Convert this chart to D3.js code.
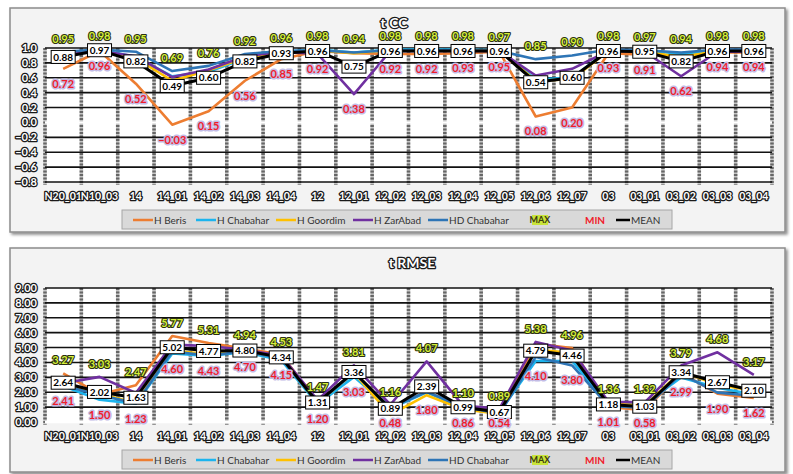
<!DOCTYPE html>
<html>
<head>
<meta charset="utf-8">
<script src="https://cdn.jsdelivr.net/npm/d3@7"></script>
<style>
  body { margin: 0; background: #fff; }
  svg { display: block; font-family: Lato, 'Open Sans', sans-serif; }
</style>
</head>
<body>
<svg width="793" height="474"></svg>
<script>
const categories = ['N20_01', 'N10_03', '14', '14_01', '14_02', '14_03', '14_04', '12', '12_01', '12_02',
  '12_03', '12_04', '12_05', '12_06', '12_07', '03', '03_01', '03_02', '03_03', '03_04'];

const seriesNames = ['H Beris', 'H Chabahar', 'H Goordim', 'H ZarAbad', 'HD Chabahar'];
const seriesColors = ['#ed7d31', '#1cb4ee', '#ffc000', '#7030a0', '#2e75b6'];

// t CC
const ccBeris = [0.72, 0.96, 0.52, -0.03, 0.15, 0.56, 0.85, 0.96, 0.93, 0.92, 0.92, 0.93, 0.95, 0.08, 0.20, 0.93, 0.91, 0.90, 0.94, 0.94];
const ccChabahar = [0.93, 0.98, 0.88, 0.62, 0.68, 0.86, 0.95, 0.98, 0.94, 0.98, 0.98, 0.98, 0.97, 0.58, 0.60, 0.97, 0.97, 0.92, 0.97, 0.97];
const ccGoordim = [0.90, 0.97, 0.86, 0.56, 0.70, 0.87, 0.94, 0.97, 0.93, 0.97, 0.97, 0.97, 0.96, 0.56, 0.58, 0.96, 0.95, 0.88, 0.96, 0.96];
const ccZarAbad = [0.91, 0.96, 0.89, 0.61, 0.71, 0.89, 0.95, 0.92, 0.38, 0.96, 0.96, 0.96, 0.96, 0.63, 0.72, 0.96, 0.95, 0.62, 0.95, 0.95];
const ccHdChabahar = [0.95, 0.98, 0.95, 0.69, 0.76, 0.92, 0.96, 0.97, 0.94, 0.97, 0.97, 0.97, 0.96, 0.85, 0.90, 0.98, 0.97, 0.94, 0.98, 0.98];
const ccMax = [0.95, 0.98, 0.95, 0.69, 0.76, 0.92, 0.96, 0.98, 0.94, 0.98, 0.98, 0.98, 0.97, 0.85, 0.90, 0.98, 0.97, 0.94, 0.98, 0.98];
const ccMin = [0.72, 0.96, 0.52, -0.03, 0.15, 0.56, 0.85, 0.92, 0.38, 0.92, 0.92, 0.93, 0.95, 0.08, 0.20, 0.93, 0.91, 0.62, 0.94, 0.94];
const ccMean = [0.88, 0.97, 0.82, 0.49, 0.60, 0.82, 0.93, 0.96, 0.75, 0.96, 0.96, 0.96, 0.96, 0.54, 0.60, 0.96, 0.95, 0.82, 0.96, 0.96];
const ccTicks = [1.0, 0.8, 0.6, 0.4, 0.2, 0.0, -0.2, -0.4, -0.6, -0.8];

// t RMSE
const rmseBeris = [3.27, 1.85, 2.47, 5.77, 5.31, 4.94, 4.53, 1.30, 3.35, 0.95, 2.05, 1.00, 0.70, 5.25, 4.96, 1.01, 0.80, 3.30, 1.90, 1.62];
const rmseChabahar = [2.41, 1.50, 1.23, 4.60, 4.43, 4.70, 4.15, 1.20, 3.03, 0.90, 2.00, 0.98, 0.65, 4.10, 4.10, 1.20, 1.20, 2.99, 2.30, 1.85];
const rmseGoordim = [2.50, 1.90, 1.30, 4.80, 4.55, 4.76, 4.30, 1.28, 3.30, 0.48, 1.80, 0.86, 0.54, 4.85, 4.64, 1.25, 1.10, 3.40, 2.50, 2.10];
const rmseZarAbad = [2.60, 3.03, 1.95, 5.20, 5.10, 4.85, 4.45, 1.47, 3.81, 1.16, 4.07, 1.10, 0.89, 5.38, 4.80, 1.36, 1.32, 3.79, 4.68, 3.17];
const rmseHdChabahar = [2.45, 1.82, 1.25, 4.73, 4.46, 4.75, 4.27, 1.30, 3.31, 0.96, 2.03, 1.01, 0.57, 4.37, 3.80, 1.08, 0.95, 3.22, 1.97, 1.76];
const rmseMax = [3.27, 3.03, 2.47, 5.77, 5.31, 4.94, 4.53, 1.47, 3.81, 1.16, 4.07, 1.10, 0.89, 5.38, 4.96, 1.36, 1.32, 3.79, 4.68, 3.17];
const rmseMin = [2.41, 1.50, 1.23, 4.60, 4.43, 4.70, 4.15, 1.20, 3.03, 0.48, 1.80, 0.86, 0.54, 4.10, 3.80, 1.01, 0.58, 2.99, 1.90, 1.62];
const rmseMean = [2.64, 2.02, 1.63, 5.02, 4.77, 4.80, 4.34, 1.31, 3.36, 0.89, 2.39, 0.99, 0.67, 4.79, 4.46, 1.18, 1.03, 3.34, 2.67, 2.10];
const rmseTicks = [9, 8, 7, 6, 5, 4, 3, 2, 1, 0];

const svg = d3.select('svg');
const defs = svg.append('defs');
defs.append('filter').attr('id', 'shadow').attr('x', '-5%').attr('y', '-5%').attr('width', '110%').attr('height', '115%')
  .append('feDropShadow').attr('dx', 2).attr('dy', 2).attr('stdDeviation', 1.5)
  .attr('flood-color', '#000').attr('flood-opacity', 0.45);

function outlined(sel, size) {
  sel.attr('font-weight', 'bold').attr('font-size', size)
    .attr('fill', '#fff').attr('stroke', '#1a1a1a').attr('stroke-width', 2.6)
    .attr('paint-order', 'stroke').attr('stroke-linejoin', 'round');
}

function drawPanel(top, title, titleX, series, maxV, minV, meanV, ticks, tickFmt) {
  const g = svg.append('g');
  const left = 45, right = 772, plotTop = top + 40, plotBottom = top + 174;

  // frame
  g.append('rect').attr('x', 10).attr('y', top).attr('width', 775).attr('height', 224)
    .attr('fill', '#f3f3f3').attr('stroke', '#8c8c8c').attr('stroke-width', 1.5)
    .attr('filter', 'url(#shadow)');
  g.append('rect').attr('x', left).attr('y', plotTop).attr('width', right - left)
    .attr('height', plotBottom - plotTop).attr('fill', '#fff');

  const x = d3.scaleBand().domain(categories).range([left, right]);
  const y = d3.scaleLinear().domain([ticks[ticks.length - 1], ticks[0]]).range([plotBottom, plotTop]);
  const cx = (i) => x(categories[i]) + x.bandwidth() / 2;

  // vertical gridlines
  const vx = categories.map((c) => x(c)).concat([right]);
  g.selectAll('.vbase').data(vx).join('line')
    .attr('x1', (d) => d).attr('x2', (d) => d).attr('y1', plotTop).attr('y2', plotBottom + 3)
    .attr('stroke', '#c4c4c4').attr('stroke-width', 3.5);
  g.selectAll('.vdash').data(vx).join('line')
    .attr('x1', (d) => d).attr('x2', (d) => d).attr('y1', plotTop).attr('y2', plotBottom + 3)
    .attr('stroke', '#666').attr('stroke-width', 3.5).attr('stroke-dasharray', '2,1.5');

  // horizontal gridlines
  g.selectAll('.hgrid').data(ticks.filter((t) => t !== 0)).join('line')
    .attr('x1', left).attr('x2', right).attr('y1', (d) => y(d)).attr('y2', (d) => y(d))
    .attr('stroke', '#111').attr('stroke-width', 1.6);
  g.append('line').attr('x1', left).attr('x2', right).attr('y1', y(0)).attr('y2', y(0))
    .attr('stroke', '#fff').attr('stroke-width', 2.5);

  // axes
  const ya = g.append('g').attr('transform', `translate(${left},0)`)
    .call(d3.axisLeft(y).tickValues(ticks).tickFormat(tickFmt).tickSize(0).tickPadding(8));
  ya.select('.domain').remove();
  ya.selectAll('text').call(outlined, 11).attr('font-family', 'Lato, sans-serif');

  const xa = g.append('g').attr('transform', `translate(0,${plotBottom + 11})`)
    .call(d3.axisBottom(x).tickSize(0).tickPadding(0));
  xa.select('.domain').remove();
  xa.selectAll('text').call(outlined, 10.5).attr('font-family', 'Lato, sans-serif').attr('dy', '0.7em');

  // title
  g.append('text').attr('x', titleX).attr('y', top + 20).attr('text-anchor', 'middle')
    .text(title).call(outlined, 14);

  // series lines
  const line = d3.line().x((d, i) => cx(i)).y((d) => y(d));
  series.forEach((s, k) => {
    g.append('path').attr('d', line(s)).attr('fill', 'none')
      .attr('stroke', seriesColors[k]).attr('stroke-width', 2.6).attr('stroke-linejoin', 'round');
  });
  g.append('path').attr('d', line(meanV)).attr('fill', 'none')
    .attr('stroke', '#000').attr('stroke-width', 3).attr('stroke-linejoin', 'round');

  const fmt = d3.format('.2f');

  // mean labels in boxes
  const ml = g.selectAll('.ml').data(meanV).join('g')
    .attr('transform', (d, i) => `translate(${cx(i)},${y(d)})`);
  ml.append('rect').attr('x', -12).attr('y', -6.5).attr('width', 24).attr('height', 13)
    .attr('fill', '#fff').attr('stroke', '#000').attr('stroke-width', 1);
  ml.append('text').attr('text-anchor', 'middle').attr('dy', '0.36em')
    .attr('font-size', 10).attr('font-weight', 'bold').attr('fill', '#000').text((d) => fmt(d));

  // max labels
  g.selectAll('.mx').data(maxV).join('text')
    .attr('x', (d, i) => cx(i)).attr('y', (d) => y(d) - 9).attr('text-anchor', 'middle')
    .attr('font-size', 11).attr('font-weight', 'bold').attr('fill', '#d6f03a')
    .attr('stroke', '#2b2f12').attr('stroke-width', 2.2).attr('paint-order', 'stroke')
    .attr('stroke-linejoin', 'round').text((d) => fmt(d));

  // min labels, kept just above the category labels
  g.selectAll('.mn').data(minV).join('text')
    .attr('x', (d, i) => cx(i)).attr('y', (d) => Math.min(y(d) + 19, plotBottom + 5)).attr('text-anchor', 'middle')
    .attr('font-size', 11).attr('font-weight', 'bold').attr('fill', '#f01c2c')
    .attr('stroke', '#c3bce6').attr('stroke-width', 3).attr('paint-order', 'stroke')
    .attr('stroke-linejoin', 'round').text((d) => fmt(d));

  // legend
  const ly = top + 212;
  g.append('rect').attr('x', 122).attr('y', top + 202).attr('width', 550).attr('height', 19)
    .attr('fill', '#d9d9d9').attr('stroke', '#a6a6a6').attr('stroke-width', 1);
  const lx = [133, 196, 276, 353, 428];
  seriesNames.forEach((name, k) => {
    g.append('line').attr('x1', lx[k]).attr('x2', lx[k] + 20).attr('y1', ly).attr('y2', ly)
      .attr('stroke', seriesColors[k]).attr('stroke-width', 2.5);
    g.append('text').attr('x', lx[k] + 21).attr('y', ly).attr('dy', '0.35em')
      .attr('font-size', 10).attr('fill', '#333').text(name);
  });
  g.append('rect').attr('x', 532).attr('y', ly - 5).attr('width', 16).attr('height', 10).attr('fill', '#c9e43a');
  g.append('text').attr('x', 540).attr('y', ly).attr('dy', '0.35em').attr('text-anchor', 'middle')
    .attr('font-size', 9).attr('font-weight', 'bold').attr('fill', '#3a3a10').text('MAX');
  g.append('text').attr('x', 595).attr('y', ly).attr('dy', '0.35em').attr('text-anchor', 'middle')
    .attr('font-size', 10).attr('font-weight', 'bold').attr('fill', '#f01c2c').text('MIN');
  g.append('line').attr('x1', 616).attr('x2', 630).attr('y1', ly).attr('y2', ly)
    .attr('stroke', '#000').attr('stroke-width', 2.5);
  g.append('text').attr('x', 631).attr('y', ly).attr('dy', '0.35em')
    .attr('font-size', 10).attr('fill', '#333').text('MEAN');
}

drawPanel(8, 't CC', 394,
  [ccBeris, ccChabahar, ccGoordim, ccZarAbad, ccHdChabahar], ccMax, ccMin, ccMean,
  ccTicks, d3.format('.1f'));
drawPanel(248, 't RMSE', 412,
  [rmseBeris, rmseChabahar, rmseGoordim, rmseZarAbad, rmseHdChabahar], rmseMax, rmseMin, rmseMean,
  rmseTicks, d3.format('.2f'));
</script>
</body>
</html>
